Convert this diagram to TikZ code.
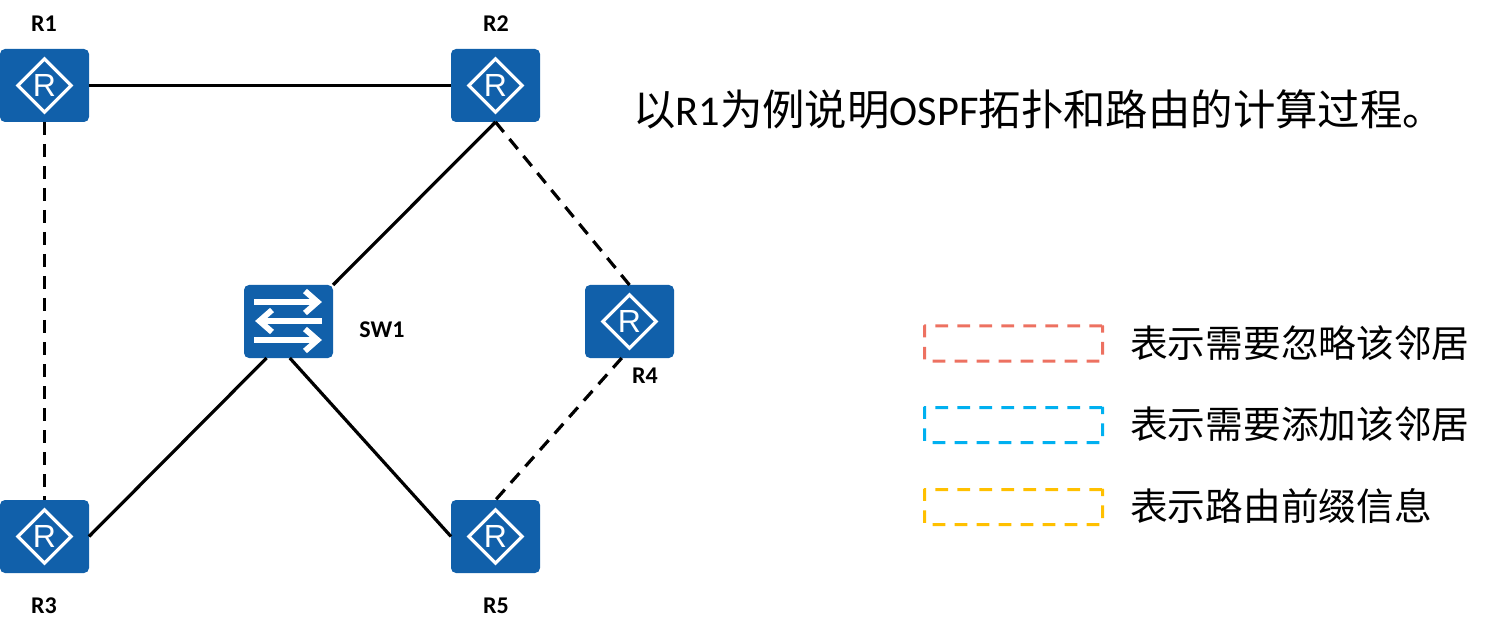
\documentclass[tikz,border=0pt]{standalone}
\usepackage{fontspec}
\setmainfont{Carlito}
\newfontfamily\cjk{Noto Sans CJK SC}
\newfontfamily\icon{Liberation Sans}
\usetikzlibrary{shapes.geometric}
\definecolor{hwblue}{HTML}{1160AA}
\definecolor{lgred}{HTML}{ED7161}
\definecolor{lgblue}{HTML}{00B0F0}
\definecolor{lggold}{HTML}{FFC000}
\tikzset{
  devbox/.style={fill=hwblue,rounded corners=5pt,minimum width=89pt,minimum height=73pt,inner sep=0pt,outer sep=0pt},
  routermark/.style={diamond,draw=white,line width=3.2pt,aspect=1,minimum width=54.5pt,minimum height=54.5pt,inner sep=0pt,text=white,font=\icon\fontsize{32}{32}\selectfont},
  devlabel/.style={font=\bfseries\fontsize{24}{28}\selectfont,inner sep=0pt},
  link/.style={line width=3.2pt,black},
  dashlink/.style={link,dash pattern=on 13pt off 9pt},
  legendbox/.style={line width=3pt,dash pattern=on 12.7pt off 9.3pt,minimum width=178pt,minimum height=35pt,inner sep=0pt,rounded corners=0.5pt},
  legendtext/.style={anchor=west,inner sep=0pt,font=\cjk\fontsize{37.7}{44}\selectfont},
  titletext/.style={anchor=west,inner sep=0pt,font=\fontsize{42.4}{50}\selectfont},
  swarrow/.style={white,line width=5.8pt,miter limit=10}
}
\begin{document}
\begin{tikzpicture}[x=1pt,y=-1pt]
\useasboundingbox (0,0) rectangle (1510,636);
% devices
\node[devbox] (r1) at (44.5,85.5) {};
\node[devbox] (r2) at (495.5,85.5) {};
\node[devbox] (r3) at (44.5,536.5) {};
\node[devbox] (r5) at (495.5,536.5) {};
\node[devbox] (r4) at (629.5,321.5) {};
\node[devbox] (sw) at (288.5,321.5) {};
\node[routermark] (r1m) at (r1) {R};
\node[routermark] (r2m) at (r2) {R};
\node[routermark] (r3m) at (r3) {R};
\node[routermark] (r5m) at (r5) {R};
\node[routermark] (r4m) at (r4) {R};
% switch arrows
\draw[swarrow] (254,302) -- (316,302);
\draw[swarrow] (305,291) -- (317.5,302) -- (305,313);
\draw[swarrow] (322,321) -- (262,321);
\draw[swarrow] (272,310) -- (259.5,321) -- (272,332);
\draw[swarrow] (254,340) -- (316,340);
\draw[swarrow] (305,329) -- (317.5,340) -- (305,351);
% links
\draw[link] (r1.east) -- (r2.west);
\draw[dashlink] (r1.south) -- (r3.north);
\draw[link] (r2.south) -- (sw.north east);
\draw[dashlink] (r2.south) -- (r4.north);
\draw[link] (sw.239) -- (r3.east);
\draw[link] (sw.272) -- (r5.west);
\draw[dashlink] (r4.258) -- (r5.north);
% labels
\node[devlabel] (lr1) at (44,24) {R1};
\node[devlabel] (lr2) at (496,24) {R2};
\node[devlabel] (lr3) at (44,606) {R3};
\node[devlabel] (lr5) at (496,606) {R5};
\node[devlabel] (lsw) at (382,330) {SW1};
\node[devlabel] (lr4) at (645,376) {R4};
% title
\node[titletext] (title) at (633,109) {{\cjk 以}R1{\cjk 为例说明}OSPF{\cjk 拓扑和路由的计算过程。}};
% legend
\node[legendbox,draw=lgred] (lg1) at (1013.5,343.5) {};
\node[legendbox,draw=lgblue] (lg2) at (1013.5,425) {};
\node[legendbox,draw=lggold] (lg3) at (1013.5,507) {};
\node[legendtext] (t1) at (1130,343) {表示需要忽略该邻居};
\node[legendtext] (t2) at (1130,424.5) {表示需要添加该邻居};
\node[legendtext] (t3) at (1130,506.5) {表示路由前缀信息};
\end{tikzpicture}
\end{document}
